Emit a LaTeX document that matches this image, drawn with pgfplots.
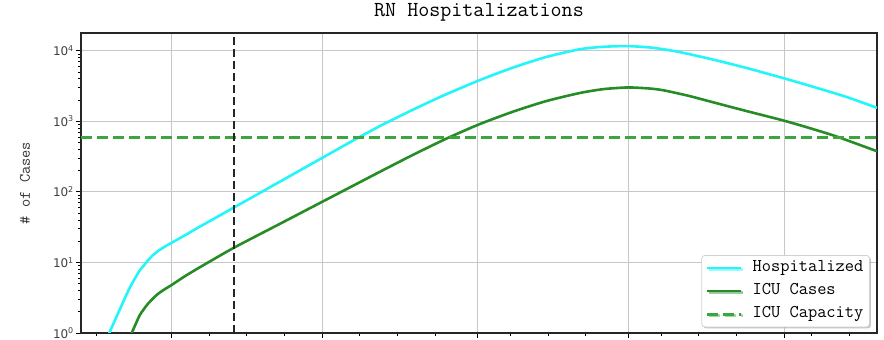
\documentclass[border=0pt]{standalone}
\usepackage{pgfplots}
\pgfplotsset{compat=1.18}
\usepackage{pgfplotstable}
\usepackage{fontspec}
\usetikzlibrary{shadows}
\newfontfamily\tickfont{DejaVu Sans}
\definecolor{hospcol}{RGB}{35,245,250}
\definecolor{icucol}{RGB}{38,140,38}
\definecolor{capcol}{RGB}{62,165,62}

\pgfplotstableread{
x y
-13 0.794
-12 1.148
-10.36 2.089
-8.37 4.266
-6.37 7.586
-5.5 9.0
-4.72 10.6
-3.7 12.6
-2.73 14.4
-1.4 16.6
0 18.9
2.5 23.8
5 30.2
8.5 41.69
12.5 60.26
17.9 99.1
24 173.8
30 302
36 524.8
42 891
48 1445
54 2291
61.4 3828
68 5754
74.6 8128
81.3 10471
86 11350
90.9 11614
96 10965
101.2 9550
107.8 7499
114.5 5689
121.9 4074
127.7 3090
134.4 2213
140.5 1549
}\hosp

\pgfplotstableread{
x y
-8.2 0.891
-7.7 1.076
-6.37 1.754
-5.5 2.17
-4.72 2.57
-3.7 3.06
-2.73 3.556
-1.4 4.14
0 4.764
2.59 6.31
5.58 8.47
12.5 16.22
21.5 34.9
30 72.1
36 120.2
41.4 190.5
48 331.1
54.7 565
61.4 912
68 1365
74.6 1928
81.3 2512
86 2851
90.9 3013
95 2917
97.9 2754
103 2291
107.8 1862
114.5 1396
121.9 1023
127 803.5
132.4 609.5
140.5 376
}\icu

\begin{document}
\begin{tikzpicture}
\useasboundingbox (-81bp,-7bp) rectangle (803bp,333bp);
\begin{axis}[
  at={(0,0)}, anchor=south west,
  scale only axis,
  width=796bp, height=300bp,
  ymode=log,
  xmin=-18, xmax=140.5,
  ymin=1, ymax=17800,
  xtick={0,30,61,91,122},
  xticklabels={},
  minor xtick={-15,7.5,15,22.5,37.5,45,52.5,67.5,75,82.5,97.5,105,112.5,127.5,135},
  ytick={1,10,100,1000,10000},
  yticklabels={{10\textsuperscript{0}},{10\textsuperscript{1}},{10\textsuperscript{2}},{10\textsuperscript{3}},{10\textsuperscript{4}}},
  yticklabel style={font=\tickfont\fontsize{12}{12}\selectfont, text=black!75, inner sep=2bp},
  tick align=outside,
  major tick length=5bp,
  minor tick length=3bp,
  every tick/.style={black, line width=0.8bp},
  xtick pos=bottom, ytick pos=left,
  xmajorgrids, ymajorgrids,
  major grid style={black!22, line width=0.9bp},
  axis line style={line width=1.5bp, black!85},
  title={RN Hospitalizations},
  title style={font=\ttfamily\fontsize{21.5}{21.5}\selectfont, at={(0.5,1)}, anchor=base, yshift=10.5bp},
  ylabel={\# of Cases},
  ylabel style={font=\ttfamily\fontsize{16}{16}\selectfont, at={(axis description cs:-0.0703,0.5)}, anchor=center, text=black!80},
  legend style={
    at={(0.991,0.019)}, anchor=south east,
    font=\ttfamily\fontsize{18}{18}\selectfont,
    draw=black!18, line width=0.8bp, rounded corners=3bp, fill=white,
    drop shadow={shadow xshift=1.5bp, shadow yshift=-1.5bp, opacity=0.45},
    nodes={text height=11.5bp, text depth=4bp, inner sep=2bp},
    row sep=3.5bp, column sep=8bp, inner xsep=4bp, inner ysep=3bp,
  },
  legend cell align=left,
  legend image code/.code={\draw[#1] (0bp,0bp) -- (34bp,0bp);},
  clip mode=individual,
]
\addplot[hospcol, line width=2.6bp, smooth, tension=0.4] table[x=x,y=y]{\hosp};
\addlegendentry{Hospitalized}
\addplot[icucol, line width=2.6bp, smooth, tension=0.4] table[x=x,y=y]{\icu};
\addlegendentry{ICU Cases}
\addplot[capcol, line width=2.8bp, dash pattern=on 11bp off 5bp] coordinates {(-18,590) (140.5,590)};
\addlegendentry{ICU Capacity}
\addplot[black!85, line width=2.2bp, dash pattern=on 8bp off 4bp, forget plot] coordinates {(12.5,1) (12.5,17800)};
\end{axis}
\end{tikzpicture}
\end{document}
